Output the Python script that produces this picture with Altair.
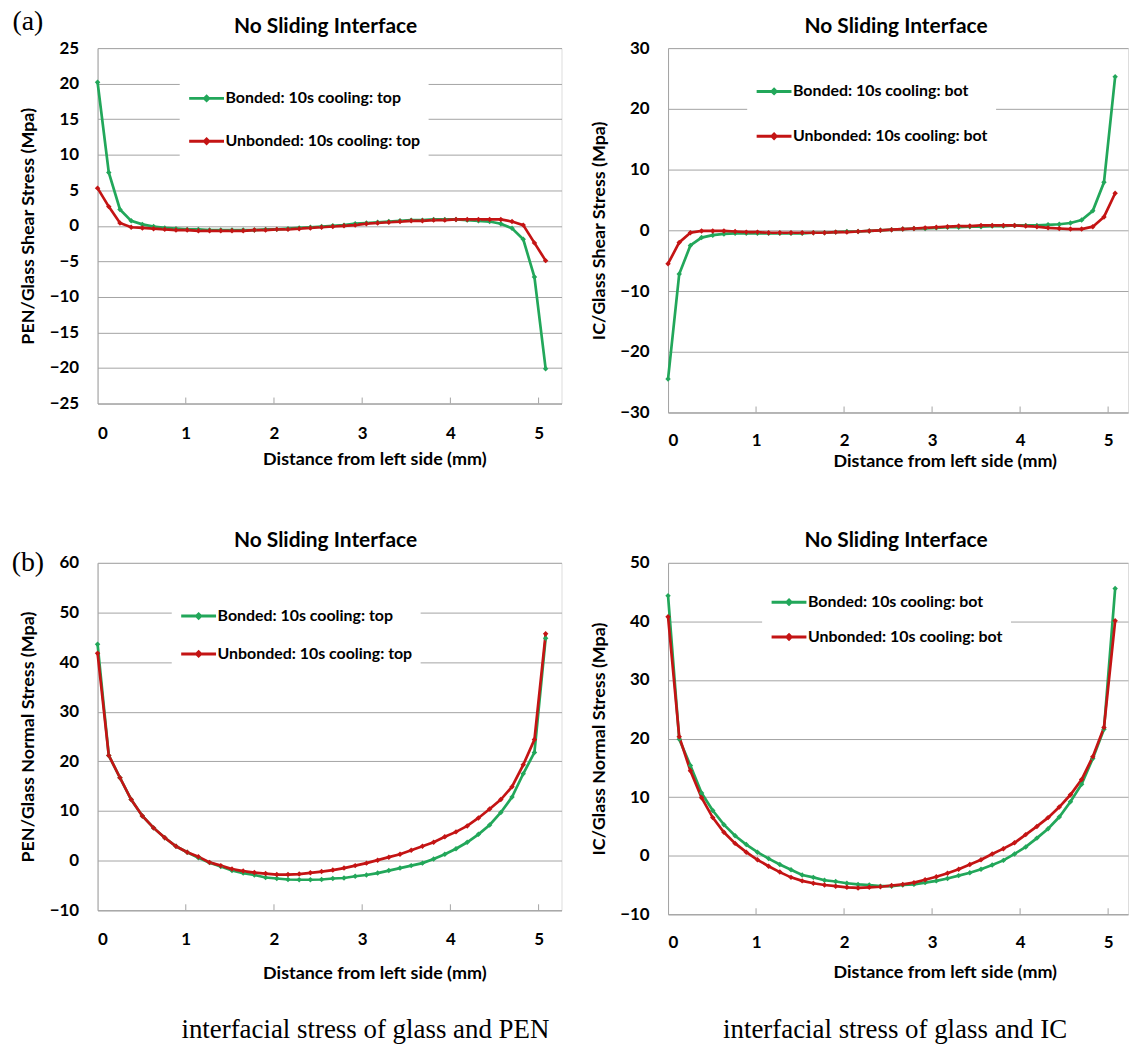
import altair as alt
import pandas as pd

# ---------------- data ----------------
X_MM = [0.000, 0.127, 0.254, 0.381, 0.508, 0.635, 0.762, 0.889, 1.016, 1.143,
        1.270, 1.397, 1.524, 1.651, 1.778, 1.905, 2.032, 2.159, 2.286, 2.413,
        2.540, 2.667, 2.794, 2.921, 3.048, 3.175, 3.302, 3.429, 3.556, 3.683,
        3.810, 3.937, 4.064, 4.191, 4.318, 4.445, 4.572, 4.699, 4.826, 4.953, 5.080]

# (a) left: PEN/Glass shear stress
PEN_SHEAR_BONDED = [20.2, 7.5, 2.3, 0.7, 0.2, -0.1, -0.3, -0.4, -0.5, -0.5,
                    -0.6, -0.6, -0.6, -0.6, -0.6, -0.5, -0.5, -0.4, -0.3, -0.2,
                    -0.1, 0.0, 0.1, 0.3, 0.4, 0.5, 0.6, 0.7, 0.8, 0.8,
                    0.9, 0.9, 0.9, 0.8, 0.7, 0.6, 0.3, -0.35, -1.9, -7.2, -20.1]
PEN_SHEAR_UNBONDED = [5.3, 2.7, 0.4, -0.2, -0.3, -0.4, -0.5, -0.6, -0.6, -0.7,
                      -0.7, -0.7, -0.7, -0.7, -0.6, -0.6, -0.5, -0.5, -0.4, -0.3,
                      -0.2, -0.1, 0.0, 0.1, 0.3, 0.4, 0.5, 0.6, 0.7, 0.7,
                      0.8, 0.8, 0.9, 0.9, 0.9, 0.9, 0.9, 0.6, 0.1, -2.4, -4.9]

# (a) right: IC/Glass shear stress
IC_SHEAR_BONDED = [-24.5, -7.2, -2.5, -1.2, -0.8, -0.6, -0.5, -0.5, -0.5, -0.5,
                   -0.5, -0.5, -0.5, -0.4, -0.4, -0.3, -0.2, -0.2, -0.1, 0.0,
                   0.1, 0.2, 0.3, 0.3, 0.4, 0.5, 0.5, 0.6, 0.6, 0.7,
                   0.7, 0.8, 0.8, 0.8, 0.9, 1.0, 1.2, 1.7, 3.2, 7.9, 25.3]
IC_SHEAR_UNBONDED = [-5.5, -2.0, -0.4, -0.1, -0.1, -0.1, -0.2, -0.3, -0.3, -0.4,
                     -0.4, -0.4, -0.4, -0.4, -0.4, -0.3, -0.3, -0.2, -0.1, 0.0,
                     0.1, 0.2, 0.3, 0.4, 0.5, 0.6, 0.7, 0.7, 0.8, 0.8,
                     0.8, 0.8, 0.7, 0.6, 0.4, 0.3, 0.2, 0.2, 0.6, 2.2, 6.1]

# (b) left: PEN/Glass normal stress
PEN_NORMAL_BONDED = [43.6, 21.2, 16.7, 12.3, 9.0, 6.6, 4.6, 2.9, 1.7, 0.6,
                     -0.4, -1.2, -2.0, -2.5, -2.9, -3.4, -3.6, -3.8, -3.85, -3.85,
                     -3.8, -3.6, -3.5, -3.15, -2.9, -2.5, -2.0, -1.5, -1.0, -0.5,
                     0.35, 1.3, 2.4, 3.7, 5.3, 7.2, 9.7, 12.8, 17.5, 21.8, 44.8]
PEN_NORMAL_UNBONDED = [41.8, 21.2, 16.7, 12.3, 9.0, 6.6, 4.6, 2.9, 1.7, 0.8,
                       -0.35, -1.0, -1.7, -2.1, -2.4, -2.6, -2.8, -2.8, -2.7, -2.45,
                       -2.2, -1.9, -1.5, -1.0, -0.5, 0.1, 0.7, 1.3, 2.1, 2.9,
                       3.7, 4.8, 5.8, 7.0, 8.6, 10.4, 12.3, 14.9, 19.3, 24.4, 45.7]

# (b) right: IC/Glass normal stress
IC_NORMAL_BONDED = [44.4, 19.9, 15.4, 10.7, 7.7, 5.3, 3.4, 1.9, 0.6, -0.5,
                    -1.5, -2.4, -3.3, -3.7, -4.2, -4.4, -4.7, -4.9, -5.0, -5.2,
                    -5.2, -5.0, -4.9, -4.6, -4.3, -3.9, -3.4, -2.9, -2.3, -1.6,
                    -0.8, 0.3, 1.5, 3.0, 4.6, 6.6, 9.2, 12.2, 16.6, 21.6, 45.6]
IC_NORMAL_UNBONDED = [40.8, 20.3, 14.5, 9.9, 6.5, 4.0, 2.1, 0.6, -0.7, -1.8,
                      -2.8, -3.7, -4.3, -4.7, -5.0, -5.2, -5.4, -5.5, -5.4, -5.3,
                      -5.1, -4.9, -4.6, -4.1, -3.6, -3.0, -2.3, -1.5, -0.7, 0.3,
                      1.2, 2.2, 3.6, 5.0, 6.5, 8.3, 10.4, 13.0, 16.9, 21.9, 40.1]

SERIES_TOP = ["Bonded: 10s cooling: top", "Unbonded: 10s cooling: top"]
SERIES_BOT = ["Bonded: 10s cooling: bot", "Unbonded: 10s cooling: bot"]
PANEL_TITLE = "No Sliding Interface"
X_TITLE = "Distance from left side (mm)"
Y_TITLES = ["PEN/Glass Shear Stress (Mpa)", "IC/Glass Shear Stress (Mpa)",
            "PEN/Glass Normal Stress (Mpa)", "IC/Glass Normal Stress (Mpa)"]
PANEL_LABELS = ["(a)", "(b)"]
CAPTIONS = ["interfacial stress of glass and PEN", "interfacial stress of glass and IC"]
X_TICKS = [0, 1, 2, 3, 4, 5]

GREEN = "#22a75a"
RED = "#c41414"
GRID = "#a3a3a3"
SANS = "Lato"
SERIF = "Liberation Serif"
LEGEND_SYMBOL = "M-1,0H1M0,-0.12L0.12,0L0,0.12L-0.12,0Z"


def frame(bonded, unbonded, names):
    rows = []
    for xv, b in zip(X_MM, bonded):
        rows.append({"x": xv, "v": b, "s": names[0]})
    for xv, u in zip(X_MM, unbonded):
        rows.append({"x": xv, "v": u, "s": names[1]})
    return pd.DataFrame(rows)


def text_layer(label, xv, yv, size, font=SERIF, weight="normal"):
    return alt.Chart(pd.DataFrame({"t": [label]})).mark_text(
        font=font, fontSize=size, fontWeight=weight, color="black",
        align="center", baseline="middle"
    ).encode(x=alt.value(xv), y=alt.value(yv), text="t:N")


def panel(df, names, w, h, xmax, yvals, ytitle, lab_pad, title_y, leg_x, leg_y, row_pad,
          head_y):
    legend = alt.Legend(orient="none", legendX=leg_x, legendY=leg_y, fillColor="white",
                        padding=8, symbolType=LEGEND_SYMBOL, symbolSize=1225,
                        symbolStrokeWidth=3, labelFont=SANS, labelFontSize=16,
                        labelFontWeight="bold", labelColor="black", labelOffset=0,
                        labelLimit=400, rowPadding=row_pad)
    color = alt.Color("s:N", title=None,
                      scale=alt.Scale(domain=names, range=[GREEN, RED]),
                      legend=legend)
    xenc = alt.X("x:Q", scale=alt.Scale(domain=[0, xmax], nice=False, zero=False),
                 axis=alt.Axis(values=X_TICKS, format="d", grid=False, tickSize=0,
                               labelPadding=lab_pad, domainColor=GRID,
                               labelFont=SANS, labelFontSize=17, labelFontWeight="bold",
                               labelColor="black", title=X_TITLE, titleFont=SANS,
                               titleFontSize=18, titleFontWeight="bold", titleColor="black",
                               titleX=278, titleY=title_y, titleAlign="center",
                               titleBaseline="middle"))
    yenc = alt.Y("v:Q", scale=alt.Scale(domain=[yvals[0], yvals[-1]], nice=False, zero=False),
                 axis=alt.Axis(values=yvals, grid=True, gridColor=GRID, tickSize=0,
                               labelPadding=19, domainColor=GRID, labelFont=SANS,
                               labelFontSize=17, labelFontWeight="bold", labelColor="black",
                               title=ytitle, titleFont=SANS, titleFontSize=18,
                               titleFontWeight="bold", titleColor="black",
                               titleX=-69, titleY=h / 2, titleAngle=270,
                               titleAlign="center", titleBaseline="middle"))
    base = alt.Chart(df)
    lines = base.mark_line(strokeWidth=2.7).encode(x=xenc, y=yenc, color=color)
    pts = base.mark_point(shape="diamond", filled=True, size=30, opacity=1).encode(
        x=xenc, y=yenc, color=color)
    ticks = alt.Chart(pd.DataFrame({"x": X_TICKS[1:]})).mark_rule(
        color=GRID, strokeWidth=1).encode(x=xenc, y=alt.value(h - 6), y2=alt.value(h))
    head = text_layer(PANEL_TITLE, 229, head_y, 21, SANS, "bold")
    return alt.layer(ticks, lines, pts, head).properties(width=w, height=h)


tl = panel(frame(PEN_SHEAR_BONDED, PEN_SHEAR_UNBONDED, SERIES_TOP), SERIES_TOP,
           466, 357, 5.26, [-25, -20, -15, -10, -5, 0, 5, 10, 15, 20, 25], Y_TITLES[0],
           22, 56, 82.5, 23.5, 15, -21)
tl = alt.layer(tl, text_layer(PANEL_LABELS[0], -70, -26, 28))

tr = panel(frame(IC_SHEAR_BONDED, IC_SHEAR_UNBONDED, SERIES_BOT), SERIES_BOT,
           462, 366, 5.226, [-30, -20, -10, 0, 10, 20, 30], Y_TITLES[1],
           20, 49, 79.5, 16.5, 17, -21)

bl = panel(frame(PEN_NORMAL_BONDED, PEN_NORMAL_UNBONDED, SERIES_TOP), SERIES_TOP,
           466, 349, 5.26, [-10, 0, 10, 20, 30, 40, 50, 60], Y_TITLES[2],
           21, 64, 74.5, 26.5, 10, -22)
bl = alt.layer(bl, text_layer(PANEL_LABELS[1], -70, 0, 28),
               text_layer(CAPTIONS[0], 269, 469, 27))

br = panel(frame(IC_NORMAL_BONDED, IC_NORMAL_UNBONDED, SERIES_BOT), SERIES_BOT,
           462, 353, 5.226, [-10, 0, 10, 20, 30, 40, 50], Y_TITLES[3],
           20, 59, 94.5, 12.5, 7, -22)
br = alt.layer(br, text_layer(CAPTIONS[1], 228, 469, 27))

chart = alt.concat(tl, tr, bl, br, columns=2, spacing={"row": 58, "column": 27}).resolve_scale(
    x="independent", y="independent", color="independent"
).resolve_legend(color="independent").properties(
    padding={"left": 11, "top": 5, "right": 0, "bottom": 0}
).configure_view(stroke=None).configure(background="white")

chart.save("out.html", embed_options={"renderer": "svg", "actions": False})
